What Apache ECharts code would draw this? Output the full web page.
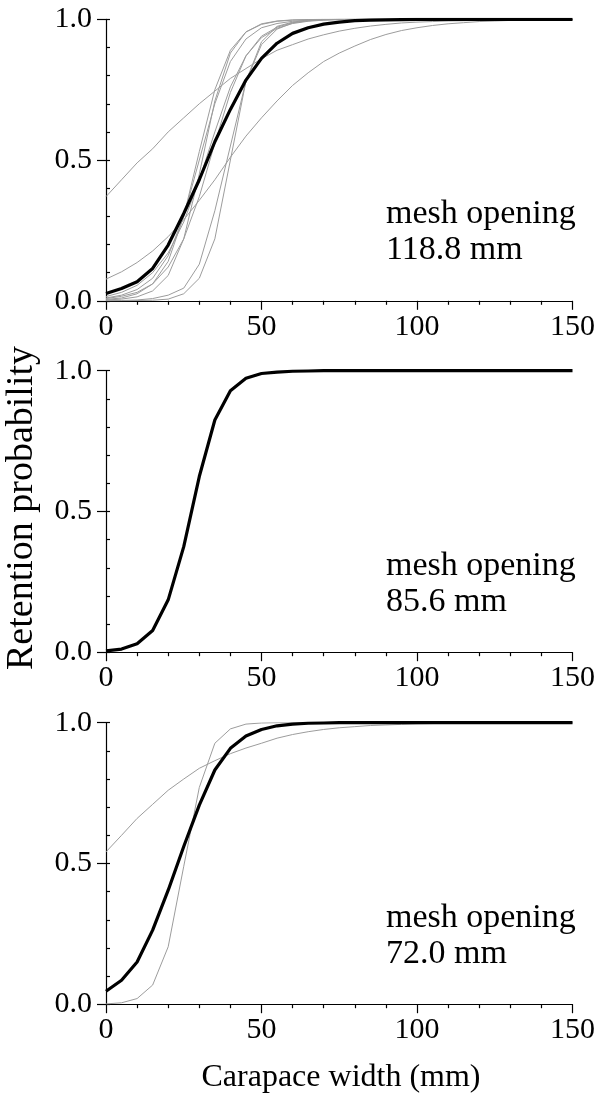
<!DOCTYPE html>
<html>
<head>
<meta charset="utf-8">
<script src="https://cdn.jsdelivr.net/npm/echarts@6/dist/echarts.min.js"></script>
<style>
  html, body { margin: 0; padding: 0; background: #fff; }
  #chart { width: 598px; height: 1101px; }
</style>
</head>
<body>
<div id="chart"></div>
<script>
// Carapace width (mm), sampled every 5 mm
const widths = [0,5,10,15,20,25,30,35,40,45,50,55,60,65,70,75,80,85,90,95,100,105,110,115,120,125,130,135,140,145,150];

const xTicks = [0, 50, 100, 150];
const yTicks = [0.0, 0.5, 1.0];

const meshLabels = ['118.8 mm', '85.6 mm', '72.0 mm'];

// Mesh 118.8 mm: pooled curve
const mean118 = [0.026,0.044,0.068,0.115,0.198,0.31,0.43,0.565,0.68,0.784,0.861,0.915,0.95,0.97,0.983,0.99,0.995,0.997,0.998,0.999,1,1,1,1,1,1,1,1,1,1,1];
// Mesh 118.8 mm: individual hauls
const haul118a = [0.37,0.43,0.49,0.54,0.6,0.65,0.7,0.745,0.79,0.825,0.86,0.89,0.91,0.93,0.945,0.958,0.968,0.976,0.982,0.987,0.99,0.992,0.994,0.995,0.996,0.997,0.998,0.998,0.999,0.999,0.999];
const haul118b = [0.077,0.103,0.136,0.177,0.228,0.288,0.357,0.43,0.51,0.585,0.65,0.71,0.765,0.81,0.85,0.88,0.905,0.928,0.946,0.96,0.97,0.978,0.984,0.988,0.992,0.994,0.996,0.997,0.998,0.999,0.999];
const haul118c = [0.01,0.02,0.04,0.08,0.16,0.3,0.5,0.7,0.85,0.93,0.97,0.985,0.993,0.997,0.999,1,1,1,1,1,1,1,1,1,1,1,1,1,1,1,1];
const haul118d = [0.005,0.01,0.025,0.06,0.14,0.3,0.53,0.75,0.89,0.955,0.982,0.993,0.997,0.999,1,1,1,1,1,1,1,1,1,1,1,1,1,1,1,1,1];
const haul118e = [0.015,0.03,0.055,0.1,0.17,0.28,0.43,0.6,0.76,0.87,0.935,0.968,0.985,0.993,0.997,0.999,1,1,1,1,1,1,1,1,1,1,1,1,1,1,1];
const haul118f = [0.003,0.006,0.014,0.035,0.09,0.22,0.45,0.71,0.88,0.955,0.984,0.994,0.998,0.999,1,1,1,1,1,1,1,1,1,1,1,1,1,1,1,1,1];
const haul118g = [0,0.001,0.003,0.008,0.02,0.045,0.13,0.32,0.55,0.78,0.91,0.965,0.987,0.995,0.998,1,1,1,1,1,1,1,1,1,1,1,1,1,1,1,1];
const haul118h = [0,0,0.001,0.002,0.006,0.025,0.08,0.22,0.5,0.78,0.92,0.975,0.99,0.997,0.999,1,1,1,1,1,1,1,1,1,1,1,1,1,1,1,1];
const haul118i = [0.008,0.016,0.03,0.06,0.12,0.22,0.37,0.56,0.74,0.87,0.94,0.972,0.988,0.995,0.998,0.999,1,1,1,1,1,1,1,1,1,1,1,1,1,1,1];

// Mesh 85.6 mm: pooled curve
const mean856 = [0.005,0.011,0.03,0.077,0.186,0.375,0.624,0.825,0.929,0.973,0.99,0.995,0.998,0.999,1,1,1,1,1,1,1,1,1,1,1,1,1,1,1,1,1];

// Mesh 72.0 mm: pooled curve and individual hauls
const mean720 = [0.046,0.085,0.15,0.263,0.405,0.56,0.707,0.832,0.909,0.953,0.976,0.989,0.995,0.998,0.999,1,1,1,1,1,1,1,1,1,1,1,1,1,1,1,1];
const haul720a = [0.001,0.005,0.02,0.068,0.204,0.49,0.77,0.927,0.978,0.995,0.999,1,1,1,1,1,1,1,1,1,1,1,1,1,1,1,1,1,1,1,1];
const haul720b = [0.541,0.6,0.66,0.71,0.76,0.8,0.838,0.865,0.89,0.91,0.927,0.945,0.958,0.968,0.976,0.982,0.986,0.99,0.992,0.994,0.996,0.997,0.998,0.998,0.999,0.999,1,1,1,1,1];

const panels = [
  { mean: mean118, hauls: [haul118a, haul118b, haul118c, haul118d, haul118e, haul118f, haul118g, haul118h, haul118i] },
  { mean: mean856, hauls: [] },
  { mean: mean720, hauls: [haul720a, haul720b] }
];

const FONT = '"Liberation Serif", "Times New Roman", serif';
const gridTops = [19.3, 370.7, 722.7];
const gridH = 281.5;
const gridLeft = 106;
const gridRight = 22.5;

const pairs = arr => widths.map((w, i) => [w, arr[i]]);

const grids = [], xAxes = [], yAxes = [], series = [], graphics = [];

const textStyle = (text, size, align) => ({
  text: text, font: size + 'px ' + FONT, fill: '#000',
  textAlign: align, textVerticalAlign: 'middle', align: align, verticalAlign: 'middle'
});

panels.forEach((p, k) => {
  grids.push({ left: gridLeft, right: gridRight, top: gridTops[k], height: gridH });

  xAxes.push({
    type: 'value', gridIndex: k, min: xTicks[0], max: xTicks[xTicks.length - 1], interval: 50,
    axisLine: { show: true, lineStyle: { color: '#000', width: 1.2 } },
    axisTick: { show: true, length: 9, lineStyle: { color: '#000', width: 1.2 } },
    minorTick: { show: true, splitNumber: 5, length: 4, lineStyle: { color: '#000', width: 1.2 } },
    splitLine: { show: false },
    axisLabel: { color: '#000', fontFamily: FONT, fontSize: 30, margin: 11, showMinLabel: true, showMaxLabel: true }
  });

  // main y axis: labels and outward major ticks
  yAxes.push({
    type: 'value', gridIndex: k, min: 0, max: 1, interval: 0.5,
    axisLine: { show: true, lineStyle: { color: '#000', width: 1.2 } },
    axisTick: { show: true, length: 9, lineStyle: { color: '#000', width: 1.2 } },
    splitLine: { show: false },
    axisLabel: {
      color: '#000', fontFamily: FONT, fontSize: 30, margin: 14,
      formatter: v => yTicks.indexOf(+v.toFixed(1)) >= 0 ? v.toFixed(1) : ''
    }
  });
  // companion y axis: short inward ticks every 0.1
  yAxes.push({
    type: 'value', gridIndex: k, min: 0, max: 1, interval: 0.1, position: 'left',
    axisLine: { show: false },
    axisTick: { show: true, inside: true, length: 4, lineStyle: { color: '#000', width: 1.2 } },
    splitLine: { show: false },
    axisLabel: { show: false }
  });

  p.hauls.forEach(h => {
    series.push({
      type: 'line', xAxisIndex: k, yAxisIndex: 2 * k, data: pairs(h),
      showSymbol: false, silent: true, z: 2,
      lineStyle: { color: '#9c9c9c', width: 1 }
    });
  });
  series.push({
    type: 'line', xAxisIndex: k, yAxisIndex: 2 * k, data: pairs(p.mean),
    showSymbol: false, silent: true, z: 3,
    lineStyle: { color: '#000', width: 3.2 }
  });

  graphics.push({ type: 'text', x: 386, y: gridTops[k] + 195, style: textStyle('mesh opening', 34, 'left') });
  graphics.push({ type: 'text', x: 386, y: gridTops[k] + 231, style: textStyle(meshLabels[k], 34, 'left') });
});

graphics.push({ type: 'text', x: 22, y: 508, rotation: Math.PI / 2, style: textStyle('Retention probability', 38, 'center') });
graphics.push({ type: 'text', x: 341, y: 1078, style: textStyle('Carapace width (mm)', 32, 'center') });

const chart = echarts.init(document.getElementById('chart'), null, { renderer: 'canvas' });
chart.setOption({
  animation: false,
  backgroundColor: '#fff',
  grid: grids,
  xAxis: xAxes,
  yAxis: yAxes,
  series: series,
  graphic: graphics
});
</script>
</body>
</html>
